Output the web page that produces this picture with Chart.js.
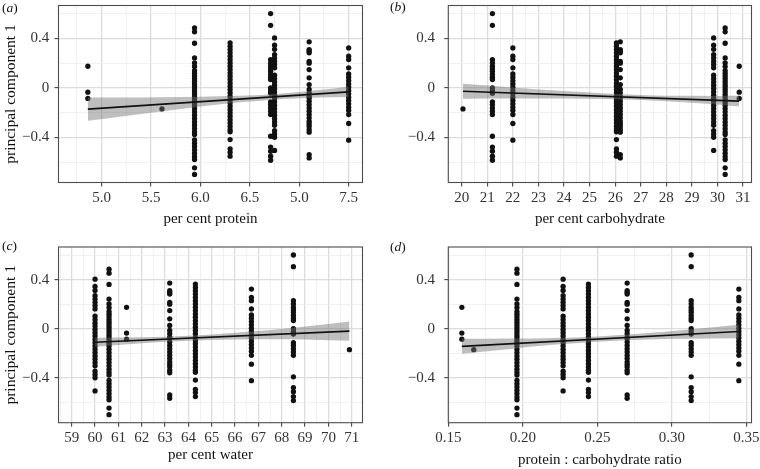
<!DOCTYPE html>
<html><head><meta charset="utf-8">
<script src="https://cdn.jsdelivr.net/npm/chart.js@4"></script>
<style>
html,body{margin:0;padding:0;background:#fff;overflow:hidden}
#wrap{position:relative;width:760px;height:469px;background:#fff}
canvas{position:absolute}
.pl{position:absolute;font-family:"Liberation Serif","Times New Roman",serif;font-size:13.5px;line-height:14px;color:#111;white-space:nowrap}
</style></head><body>
<div id="wrap">
<canvas id="pa" width="380" height="235" style="left:0;top:0;width:380px;height:235px"></canvas>
<canvas id="pb" width="380" height="235" style="left:380px;top:0;width:380px;height:235px"></canvas>
<canvas id="pc" width="380" height="234" style="left:0;top:235px;width:380px;height:234px"></canvas>
<canvas id="pd" width="380" height="234" style="left:380px;top:235px;width:380px;height:234px"></canvas>
<div class="pl" style="left:2px;top:1px">(<i>a</i>)</div>
<div class="pl" style="left:390px;top:0px">(<i>b</i>)</div>
<div class="pl" style="left:2px;top:239px">(<i>c</i>)</div>
<div class="pl" style="left:390px;top:240px">(<i>d</i>)</div>
</div>
<script>
// ---- data: principal component 1 values of each diet group ----
const yG_A = [0.175, -0.035, -0.085];
const yG_B = [-0.17];
const yG_C = [0.485,0.453,0.361,0.242,0.202,0.172,0.14,0.119,0.097,0.075,0.054,0.032,0.011,-0.011,-0.032,-0.054,-0.075,-0.097,-0.119,-0.14,-0.167,-0.194,-0.221,-0.248,-0.275,-0.302,-0.329,-0.356,-0.377,-0.42,-0.447,-0.474,-0.501,-0.528,-0.555,-0.579,-0.646,-0.70];
const yG_D = [0.404,0.345,0.312,0.269,0.242,0.215,0.189,0.162,0.102,0.075,0.048,0.022,-0.005,-0.032,-0.059,-0.086,-0.113,-0.14,-0.167,-0.194,-0.221,-0.248,-0.275,-0.302,-0.345,-0.372,-0.399,-0.506];
const yG_E = [0.364,0.337,0.31,0.283,0.256,0.229,0.202,0.175,0.148,0.121,0.094,0.067,0.04,0.013,-0.014,-0.041,-0.068,-0.095,-0.122,-0.149,-0.176,-0.203,-0.23,-0.257,-0.284,-0.311,-0.338,-0.355,-0.418,-0.493,-0.52,-0.552];
const yG_F = [0.372,0.31,0.296,0.283,0.215,0.2,0.148,0.081,0.027,-0.013,-0.04,-0.068,-0.081,-0.108,-0.135,-0.162,-0.189,-0.216,-0.242,-0.269,-0.29,-0.31,-0.337,-0.358,-0.539,-0.566];
const yG_G = [0.601,0.506,0.229,0.202,0.175,0.154,0.135,0.108,0.086,0.067,0.0,-0.022,-0.043,-0.113,-0.135,-0.162,-0.189,-0.216,-0.391,-0.479,-0.512,-0.552,-0.585];
const yG_H = [0.323,0.256,0.229,0.162,0.113,0.086,0.059,0.032,0.005,-0.022,-0.048,-0.075,-0.102,-0.129,-0.156,-0.183,-0.216,-0.288,-0.423];
const groupY = [yG_A, yG_B, yG_C, yG_D, yG_E, yG_F, yG_G, yG_H];

// diet composition of each group
const proteinX = [4.86, 5.61, 5.94, 6.75, 6.30, 7.10, 6.71, 7.50];
const carbX    = [30.85, 20.05, 30.3, 29.85, 26.05, 26.2, 21.2, 22.0];
const waterX   = [61.35, 70.9, 60.6, 60.0, 64.3, 63.2, 68.5, 66.7];
const ratioX   = [0.159, 0.167, 0.196, 0.227, 0.244, 0.270, 0.313, 0.345];

// fitted lines (end points) and confidence bands
const fitProteinX = [4.86, 7.5],  fitProteinY = [-0.172, -0.032];
const bandProteinX = [4.86, 5.2, 5.6, 6.0, 6.4, 6.8, 7.2, 7.5];
const bandProteinUp = [-0.078, -0.077, -0.075, -0.071, -0.064, -0.047, -0.018, 0.010];
const bandProteinLo = [-0.266, -0.231, -0.191, -0.151, -0.116, -0.091, -0.078, -0.074];

const fitCarbX = [20.05, 30.85], fitCarbY = [-0.027, -0.107];
const bandCarbX = [20.05, 22, 24, 26, 28, 30, 30.85];
const bandCarbUp = [0.033, 0.004, -0.026, -0.050, -0.064, -0.065, -0.064];
const bandCarbLo = [-0.087, -0.086, -0.086, -0.092, -0.108, -0.135, -0.150];

const fitWaterX = [60, 70.9], fitWaterY = [-0.110, -0.019];
const bandWaterX = [60, 62, 64, 66, 68, 70, 70.9];
const bandWaterUp = [-0.073, -0.069, -0.057, -0.033, -0.001, 0.039, 0.059];
const bandWaterLo = [-0.147, -0.117, -0.097, -0.087, -0.085, -0.093, -0.097];

const fitRatioX = [0.159, 0.345], fitRatioY = [-0.143, -0.022];
const bandRatioX = [0.159, 0.19, 0.22, 0.25, 0.28, 0.31, 0.345];
const bandRatioUp = [-0.082, -0.080, -0.075, -0.063, -0.039, -0.008, 0.033];
const bandRatioLo = [-0.204, -0.166, -0.131, -0.105, -0.089, -0.082, -0.077];

// ticks
const proteinTicks = [5.0, 5.5, 6.0, 6.5, 7.0, 7.5];
const proteinTickLabels = ['5.0', '5.5', '6.0', '6.5', '5.0', '7.5'];
const proteinMinor = [4.75, 5.25, 5.75, 6.25, 6.75, 7.25];
const carbTicks = [20, 21, 22, 23, 24, 25, 26, 27, 28, 29, 30, 31];
const carbTickLabels = ['20','21','22','23','24','25','26','27','28','29','30','31'];
const carbMinor = [19.5, 20.5, 21.5, 22.5, 23.5, 24.5, 25.5, 26.5, 27.5, 28.5, 29.5, 30.5];
const waterTicks = [59, 60, 61, 62, 63, 64, 65, 66, 67, 68, 69, 70, 71];
const waterTickLabels = ['59','60','61','62','63','64','65','66','67','68','69','70','71'];
const waterMinor = [58.5, 59.5, 60.5, 61.5, 62.5, 63.5, 64.5, 65.5, 66.5, 67.5, 68.5, 69.5, 70.5];
const ratioTicks = [0.15, 0.20, 0.25, 0.30, 0.35];
const ratioTickLabels = ['0.15', '0.20', '0.25', '0.30', '0.35'];
const ratioMinor = [0.175, 0.225, 0.275, 0.325];
const yTicks = [-0.4, 0, 0.4];
const yTickLabels = ['\u22120.4', '0', '0.4'];
const yMinor = [-0.6, -0.2, 0.2, 0.6];

// ---- drawing ----
const FONT = '"Liberation Serif", "Times New Roman", serif';
const MAJ = '#dcdcdc', MIN = '#ececec';
const Y_MIN = -0.765, Y_MAX = 0.666;

function tickObjs(major, labels, minor) {
  const out = [];
  major.forEach((v, i) => out.push({ value: v, isMajor: true, lab: labels[i] }));
  minor.forEach(v => out.push({ value: v, isMajor: false, lab: '' }));
  out.sort((a, b) => a.value - b.value);
  return out;
}
const isMaj = c => !!(c.tick && c.tick.isMajor);
const gridOpts = () => ({
  display: true, drawOnChartArea: true, drawTicks: true,
  color: c => isMaj(c) ? MAJ : MIN,
  lineWidth: c => isMaj(c) ? 1.3 : 0.8,
  tickColor: c => isMaj(c) ? '#333' : 'rgba(0,0,0,0)',
  tickWidth: 1, tickLength: 4
});

const boxPlugin = {
  id: 'panelBox',
  afterDatasetsDraw(chart) {
    const a = chart.chartArea, c = chart.ctx;
    c.save();
    c.strokeStyle = '#4d4d4d';
    c.lineWidth = 1.1;
    c.strokeRect(a.left, a.top, a.right - a.left, a.bottom - a.top);
    c.restore();
  }
};

function makePanel(p) {
  const W = p.yTitle ? 56.5 : 40;
  const needed = p.titleCenter - p.plot.b + 9;
  const H = Math.min(needed, p.ch - p.plot.b);
  const pb = H - needed;
  const pts = [];
  groupY.forEach((ys, gi) => ys.forEach(y => pts.push({ x: p.groupX[gi], y: y })));
  const fit = p.fitX.map((x, i) => ({ x: x, y: p.fitY[i] }));
  const up = p.bandX.map((x, i) => ({ x: x, y: p.bandUp[i] }));
  const lo = p.bandX.map((x, i) => ({ x: x, y: p.bandLo[i] }));
  new Chart(document.getElementById(p.id), {
    type: 'scatter',
    data: {
      datasets: [
        { type: 'line', data: fit, borderColor: '#111', borderWidth: 1.6, pointRadius: 0, fill: false, order: 0 },
        { type: 'line', data: up, borderColor: 'rgba(0,0,0,0)', borderWidth: 0, pointRadius: 0, fill: false, cubicInterpolationMode: 'monotone', order: 1 },
        { type: 'line', data: lo, borderColor: 'rgba(0,0,0,0)', borderWidth: 0, pointRadius: 0, fill: '-1', backgroundColor: 'rgba(110,110,110,0.45)', cubicInterpolationMode: 'monotone', order: 1 },
        { type: 'scatter', data: pts, pointRadius: 2.65, pointBackgroundColor: '#111', pointBorderWidth: 0, backgroundColor: '#111', showLine: false, order: 2 }
      ]
    },
    plugins: [boxPlugin],
    options: {
      responsive: false, animation: false, devicePixelRatio: 1, events: [],
      layout: { padding: { left: p.plot.l - W, right: 380 - p.plot.r, top: p.plot.t, bottom: p.ch - p.plot.b - H } },
      plugins: { legend: { display: false }, tooltip: { enabled: false }, title: { display: false } },
      scales: {
        x: {
          type: 'linear', min: p.xMin, max: p.xMax,
          afterBuildTicks: s => { s.ticks = tickObjs(p.xTicks, p.xLabels, p.xMinor); },
          afterFit: s => { s.height = H; s.paddingLeft = 0; s.paddingRight = 0; s.paddingTop = 0; s.paddingBottom = 0; },
          ticks: { autoSkip: false, maxRotation: 0, minRotation: 0, padding: p.xPad, color: '#333',
                   font: { family: FONT, size: 15 }, callback: (v, i, t) => (t[i] && t[i].lab) || '' },
          grid: gridOpts(),
          border: { display: false },
          title: { display: true, text: p.xTitle, color: '#111', font: { family: FONT, size: 15 }, padding: { top: 0, bottom: pb } }
        },
        y: {
          type: 'linear', min: Y_MIN, max: Y_MAX,
          afterBuildTicks: s => { s.ticks = tickObjs(yTicks, yTickLabels, yMinor); },
          afterFit: s => { s.width = W; s.paddingTop = 0; s.paddingBottom = 0; s.paddingLeft = 0; s.paddingRight = 0; },
          ticks: { autoSkip: false, padding: p.yPad, color: '#333', font: { family: FONT, size: 15 },
                   callback: (v, i, t) => (t[i] && t[i].lab) || '' },
          grid: gridOpts(),
          border: { display: false },
          title: { display: p.yTitle, text: 'principal component 1', color: '#111', font: { family: FONT, size: 15.5 }, padding: { top: 0, bottom: 0 } }
        }
      }
    }
  });
}

makePanel({ id: 'pa', ch: 235, plot: { l: 58.5, r: 362.5, t: 5.5, b: 182.5 }, xMin: 4.563, xMax: 7.64,
  xTicks: proteinTicks, xLabels: proteinTickLabels, xMinor: proteinMinor, xTitle: 'per cent protein',
  titleCenter: 218.7, xPad: 2.8, yPad: 5.2, yTitle: true, groupX: proteinX,
  fitX: fitProteinX, fitY: fitProteinY, bandX: bandProteinX, bandUp: bandProteinUp, bandLo: bandProteinLo });
makePanel({ id: 'pb', ch: 235, plot: { l: 68.3, r: 371.5, t: 5.5, b: 182.5 }, xMin: 19.476, xMax: 31.33,
  xTicks: carbTicks, xLabels: carbTickLabels, xMinor: carbMinor, xTitle: 'per cent carbohydrate',
  titleCenter: 219.4, xPad: 2.8, yPad: 9.3, yTitle: false, groupX: carbX,
  fitX: fitCarbX, fitY: fitCarbY, bandX: bandCarbX, bandUp: bandCarbUp, bandLo: bandCarbLo });
makePanel({ id: 'pc', ch: 234, plot: { l: 58.5, r: 362.5, t: 12, b: 187.7 }, xMin: 58.434, xMax: 71.46,
  xTicks: waterTicks, xLabels: waterTickLabels, xMinor: waterMinor, xTitle: 'per cent water',
  titleCenter: 220, xPad: 2.8, yPad: 5.2, yTitle: true, groupX: waterX,
  fitX: fitWaterX, fitY: fitWaterY, bandX: bandWaterX, bandUp: bandWaterUp, bandLo: bandWaterLo });
makePanel({ id: 'pd', ch: 234, plot: { l: 68.3, r: 371.5, t: 12, b: 187.7 }, xMin: 0.1499, xMax: 0.3535,
  xTicks: ratioTicks, xLabels: ratioTickLabels, xMinor: ratioMinor, xTitle: 'protein : carbohydrate ratio',
  titleCenter: 224.8, xPad: 2.8, yPad: 9.3, yTitle: false, groupX: ratioX,
  fitX: fitRatioX, fitY: fitRatioY, bandX: bandRatioX, bandUp: bandRatioUp, bandLo: bandRatioLo });
</script>
</body></html>
